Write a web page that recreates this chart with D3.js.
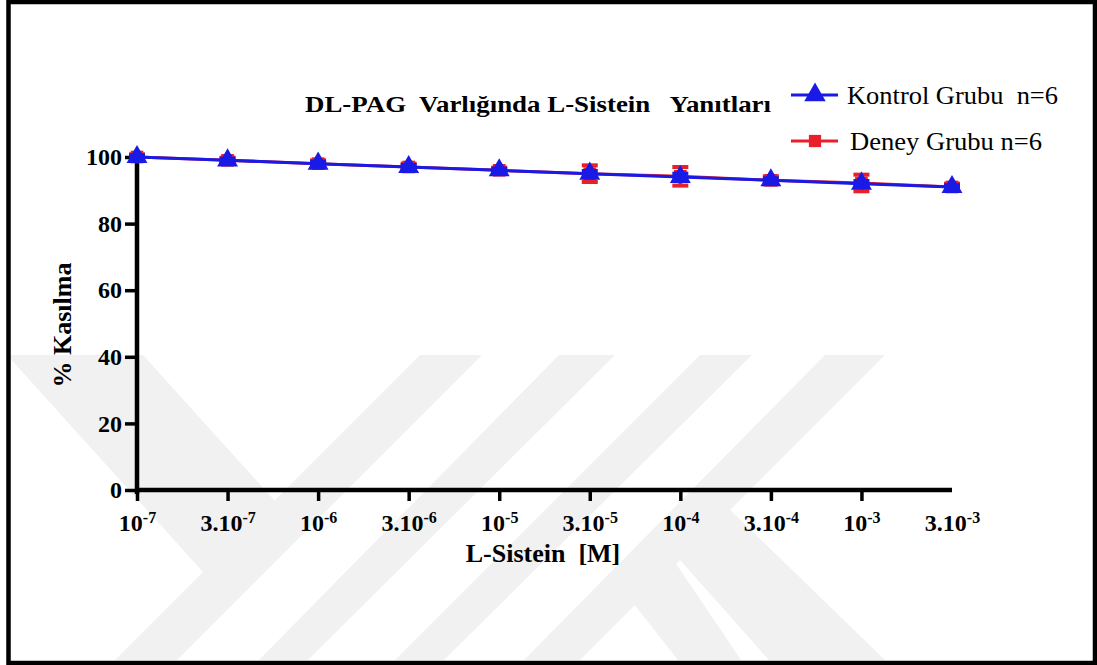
<!DOCTYPE html>
<html>
<head>
<meta charset="utf-8">
<script src="https://cdn.jsdelivr.net/npm/d3@7"></script>
<style>
body { margin: 0; background: #fff; }
text { font-family: "Liberation Serif", "Times New Roman", serif; }
</style>
</head>
<body>
<script>
// concentrations (categorical x axis)
var conc = ["1e-7", "3e-7", "1e-6", "3e-6", "1e-5", "3e-5", "1e-4", "3e-4", "1e-3", "3e-3"];
var tickBase = ["10", "3.10", "10", "3.10", "10", "3.10", "10", "3.10", "10", "3.10"];
var tickExp = ["-7", "-7", "-6", "-6", "-5", "-5", "-4", "-4", "-3", "-3"];
var yTicks = [0, 20, 40, 60, 80, 100];

var kontrol = [100, 99, 98, 97, 96, 95, 94, 93, 92, 91];
var kontrolErr = [0.5, 0.5, 0.6, 0.6, 0.5, 0.8, 1, 0.6, 0.8, 0.5];
var deney = [100, 99, 98, 97, 96, 95, 94.2, 93, 92.2, 91];
var deneyErr = [0.8, 0.8, 1, 1, 0.8, 2.5, 2.8, 1.2, 2.5, 1];

var series = [
  {name: "Deney Grubu n=6", values: deney, err: deneyErr, color: "#e8202a", shape: d3.symbolSquare},
  {name: "Kontrol Grubu  n=6", values: kontrol, err: kontrolErr, color: "#1a1ae6", shape: d3.symbolTriangle}
];

var svg = d3.select("body").append("svg")
  .attr("width", 1097)
  .attr("height", 665);

// watermark (light grey bands)
var wm = svg.append("g").attr("fill", "#f1f1f1");
[
  [[7,355],[143,355],[304,533],[203,572]],
  [[420,355],[482,355],[177,660],[115,660]],
  [[559,355],[615,355],[308,660],[259,660]],
  [[700,355],[752,355],[444,660],[395,660]],
  [[825,355],[885,355],[580,660],[524,660]],
  [[678,660],[741,660],[660,540],[615,580]],
  [[769,660],[885,660],[720,500],[680,560]]
].forEach(function(p) {
  wm.append("polygon").attr("points", p.map(function(q) { return q.join(","); }).join(" "));
});

// frame
svg.append("rect")
  .attr("x", 8.5).attr("y", 2)
  .attr("width", 1086.5).attr("height", 661)
  .attr("fill", "none")
  .attr("stroke", "#000")
  .attr("stroke-width", 4.5);

var x = d3.scalePoint()
  .domain(conc)
  .range([137, 952]);

var y = d3.scaleLinear()
  .domain([0, 100])
  .range([490, 157]);

// x axis
var xAxis = svg.append("g")
  .attr("transform", "translate(0,490)")
  .call(d3.axisBottom(x).tickSizeOuter(0).tickSize(11).tickPadding(13));
xAxis.select(".domain").attr("stroke-width", 4.5).attr("d", "M135,0H952");
xAxis.selectAll(".tick line").attr("stroke-width", 3.5);
xAxis.selectAll(".tick").filter(function(d, i) { return i === conc.length - 1; })
  .select("line").remove();
xAxis.selectAll(".tick text")
  .attr("fill", "#000")
  .style("font-size", "24px")
  .style("font-weight", "bold")
  .attr("dy", "0.71em")
  .each(function(d, i) {
    var t = d3.select(this).text(null);
    t.append("tspan").text(tickBase[i]);
    t.append("tspan").attr("dy", "-0.5em").style("font-size", "16px").text(tickExp[i]);
  });

// y axis
var yAxis = svg.append("g")
  .attr("transform", "translate(137,0)")
  .call(d3.axisLeft(y).tickValues(yTicks).tickSizeOuter(0).tickSize(12).tickPadding(3));
yAxis.select(".domain").attr("stroke-width", 4.5).attr("d", "M0,494V156");
yAxis.selectAll(".tick line").attr("stroke-width", 3.5);
yAxis.selectAll(".tick text")
  .attr("fill", "#000")
  .style("font-size", "24px")
  .style("font-weight", "bold");

// axis titles
svg.append("text")
  .attr("x", 543).attr("y", 562)
  .attr("text-anchor", "middle")
  .style("font-size", "26px").style("font-weight", "bold").style("white-space", "pre")
  .text("L-Sistein  [M]");

svg.append("text")
  .attr("transform", "translate(71,325) rotate(-90)")
  .attr("text-anchor", "middle")
  .style("font-size", "26px").style("font-weight", "bold")
  .text("% Kasılma");

// title
svg.append("text")
  .attr("x", 305).attr("y", 112)
  .attr("textLength", 466).attr("lengthAdjust", "spacingAndGlyphs")
  .style("font-size", "23px").style("font-weight", "bold").style("white-space", "pre")
  .text("DL-PAG  Varlığında L-Sistein   Yanıtları");

// series
var line = d3.line()
  .x(function(d, i) { return x(conc[i]); })
  .y(function(d) { return y(d); });

series.forEach(function(s) {
  var g = svg.append("g");
  g.append("path")
    .attr("d", line(s.values))
    .attr("fill", "none")
    .attr("stroke", s.color)
    .attr("stroke-width", 3);
  var eb = g.selectAll(".eb").data(s.values).enter().append("g")
    .attr("stroke", s.color).attr("stroke-width", 4);
  eb.append("line")
    .attr("x1", function(d, i) { return x(conc[i]); })
    .attr("x2", function(d, i) { return x(conc[i]); })
    .attr("y1", function(d, i) { return y(d + s.err[i]); })
    .attr("y2", function(d, i) { return y(d - s.err[i]); });
  [1, -1].forEach(function(sg) {
    eb.append("line")
      .attr("x1", function(d, i) { return x(conc[i]) - 8; })
      .attr("x2", function(d, i) { return x(conc[i]) + 8; })
      .attr("y1", function(d, i) { return y(d + sg * s.err[i]); })
      .attr("y2", function(d, i) { return y(d + sg * s.err[i]); });
  });
  g.selectAll(".mk").data(s.values).enter().append("path")
    .attr("d", d3.symbol().type(s.shape).size(s.shape === d3.symbolSquare ? 160 : 190))
    .attr("transform", function(d, i) { return "translate(" + x(conc[i]) + "," + y(d) + ")"; })
    .attr("fill", s.color);
});

// legend
var legend = svg.selectAll(".legend")
  .data(series.slice().reverse())
  .enter().append("g")
  .attr("class", "legend")
  .attr("transform", function(d, i) { return "translate(0," + (95 + i * 46) + ")"; });

legend.append("line")
  .attr("x1", 791).attr("x2", 838)
  .attr("stroke", function(d) { return d.color; })
  .attr("stroke-width", 3);
legend.append("path")
  .attr("d", function(d) { return d3.symbol().type(d.shape).size(d.shape === d3.symbolSquare ? 150 : 200)(); })
  .attr("transform", "translate(815,0)")
  .attr("fill", function(d) { return d.color; });
legend.append("text")
  .attr("x", function(d, i) { return i === 0 ? 847 : 850; })
  .attr("y", 9)
  .attr("textLength", function(d, i) { return i === 0 ? 211 : 192; })
  .attr("lengthAdjust", "spacingAndGlyphs")
  .style("font-size", "26px").style("white-space", "pre")
  .text(function(d) { return d.name; });
</script>
</body>
</html>
